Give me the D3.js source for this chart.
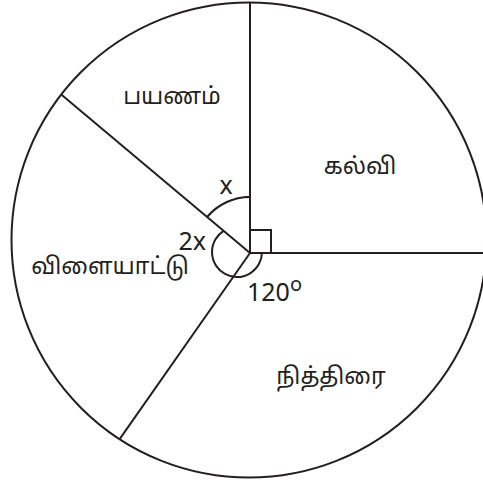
<!DOCTYPE html>
<html>
<head>
<meta charset="utf-8">
<script src="https://cdn.jsdelivr.net/npm/d3@7"></script>
<style>
    body { margin: 0; background: #fff; }
    svg { display: block; }
    .lbl { font-family: "Noto Sans Tamil", "Noto Sans", sans-serif; font-size: 23px; fill: #231f20; }
    .ann { font-family: "Liberation Sans Narrow", "Noto Sans", sans-serif; font-size: 25px; fill: #231f20; }
</style>
</head>
<body>
<div id="chart"></div>
<script>
// slice names, clockwise from 12 o'clock
const categories = ['கல்வி', 'நித்திரை', 'விளையாட்டு', 'பயணம்'];
// angle of each slice in degrees, as drawn
const angles = [90, 125, 95, 50];
// angle marks written on the figure
const markLabels = ['x', '2x', '120'];

const width = 483, height = 484;
const stroke = '#231f20';

// the circle and the point where the radii meet (not quite its centre)
const cx = 249, cy = 240, R = 237.5;
const vx = 250, vy = 253;

// label anchors (x, y) for each slice
const labelAt = [[360, 168], [331, 378], [110, 268], [172, 98]];

let svg = d3.select('#chart').append('svg')
    .attr('width', width)
    .attr('height', height);

let pie = d3.pie().sort(null).value(d => d)
    .startAngle(0).endAngle(2 * Math.PI);
let arcs = pie(angles);

// outer circle
svg.append('circle')
    .attr('cx', cx).attr('cy', cy).attr('r', R)
    .attr('fill', 'none')
    .attr('stroke', stroke)
    .attr('stroke-width', 2);

// radii: ray from the vertex until it hits the circle
function hit(a) {
    let dx = Math.sin(a), dy = -Math.cos(a);
    let ox = vx - cx, oy = vy - cy;
    let b = ox * dx + oy * dy;
    let c = ox * ox + oy * oy - R * R;
    let t = -b + Math.sqrt(b * b - c);
    return [vx + t * dx, vy + t * dy];
}

svg.append('g').selectAll('line')
    .data(arcs)
    .join('line')
    .attr('x1', vx).attr('y1', vy)
    .attr('x2', d => hit(d.startAngle)[0])
    .attr('y2', d => hit(d.startAngle)[1])
    .attr('stroke', stroke)
    .attr('stroke-width', 2);

// slice names
svg.append('g').selectAll('text')
    .data(arcs)
    .join('text')
    .attr('class', 'lbl')
    .attr('x', (d, i) => labelAt[i][0])
    .attr('y', (d, i) => labelAt[i][1])
    .attr('text-anchor', 'middle')
    .attr('dominant-baseline', 'central')
    .text((d, i) => categories[i]);

// right angle box on the first slice
svg.append('rect')
    .attr('x', vx).attr('y', vy - 23)
    .attr('width', 21).attr('height', 23)
    .attr('fill', 'none')
    .attr('stroke', stroke)
    .attr('stroke-width', 2);

let rad = d => d * Math.PI / 180;

// arc for x (last slice)
let last = arcs[3];
svg.append('path')
    .attr('transform', `translate(${vx},${vy})`)
    .attr('d', d3.arc().innerRadius(56).outerRadius(56)
        .startAngle(last.startAngle).endAngle(last.endAngle)())
    .attr('fill', 'none')
    .attr('stroke', stroke)
    .attr('stroke-width', 2);

// one loop covering 2x and 120
svg.append('path')
    .attr('transform', 'translate(237,252)')
    .attr('d', d3.arc().innerRadius(25).outerRadius(25)
        .startAngle(rad(90)).endAngle(rad(327.6))())
    .attr('fill', 'none')
    .attr('stroke', stroke)
    .attr('stroke-width', 2);

svg.append('text').attr('class', 'ann')
    .attr('x', 226).attr('y', 194)
    .attr('text-anchor', 'middle')
    .text(markLabels[0]);

svg.append('text').attr('class', 'ann')
    .attr('x', 206).attr('y', 250)
    .attr('text-anchor', 'end')
    .text(markLabels[1]);

let deg = svg.append('text').attr('class', 'ann')
    .attr('x', 247).attr('y', 301)
    .text(markLabels[2]);
deg.append('tspan')
    .attr('dy', -10)
    .style('font-size', '20px')
    .text('o');
</script>
</body>
</html>
